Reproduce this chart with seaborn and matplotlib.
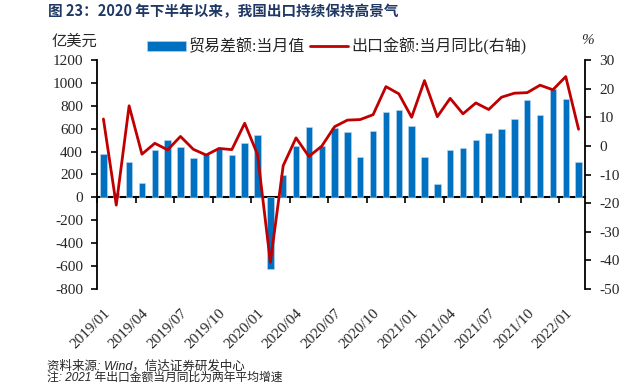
import numpy as np
import pandas as pd
import matplotlib
matplotlib.use("Agg")
import matplotlib.pyplot as plt
import seaborn as sns

# months 2019/01 - 2022/02
months = [f"{y}/{m:02d}" for y in (2019, 2020, 2021) for m in range(1, 13)] + ["2022/01", "2022/02"]

# 贸易差额:当月值 (亿美元)
balance = [381, 41, 311, 128, 413, 498, 440, 346, 375, 422, 369, 471,
           544, -625, 195, 448, 617, 448, 605, 573, 352, 576, 744, 762,
           620, 352, 114, 410, 431, 503, 561, 594, 681, 849, 719, 951,
           858, 306]

# 出口金额:当月同比 (%)
export_yoy = [9.4, -20.7, 14.0, -2.9, 0.9, -1.4, 3.3, -1.2, -3.2, -0.9, -1.3, 7.9,
              -3.0, -40.7, -6.9, 2.8, -3.7, -0.1, 6.7, 9.0, 9.2, 10.9, 20.7, 18.2,
              10.0, 22.8, 10.2, 16.6, 11.2, 15.0, 12.7, 17.0, 18.4, 18.6, 21.2, 19.6,
              24.2, 5.8]

left_ticks = list(range(-800, 1201, 200))
right_ticks = list(range(-50, 31, 10))

title = "图 23：2020 年下半年以来，我国出口持续保持高景气"
source = "资料来源: Wind，信达证券研发中心"
note = "注: 2021 年出口金额当月同比为两年平均增速"

df = pd.DataFrame({"month": months, "balance": balance, "yoy": export_yoy})
df["pos"] = np.arange(len(df))

sns.set_theme(style="white")
plt.rcParams["font.family"] = ["Liberation Serif", "Noto Sans CJK SC", "DejaVu Sans"]
plt.rcParams["axes.unicode_minus"] = False

bar_color = "#0070C0"
line_color = "#C00000"

fig = plt.figure(figsize=(6.35, 3.86), dpi=100)
ax = fig.add_axes([97 / 635, 1 - 289 / 386, 488 / 635, 229 / 386])

sns.barplot(data=df, x="month", y="balance", color=bar_color, width=0.5,
            saturation=1, edgecolor="#BDD7EE", linewidth=0.4, ax=ax,
            label="贸易差额:当月值")
if ax.get_legend() is not None:
    ax.get_legend().remove()
ax.set_xlim(-0.5, len(months) - 0.5)
ax.set_ylim(-800, 1200)
ax.set_yticks(left_ticks)
ax.set_yticklabels([str(t) for t in left_ticks])

ax2 = ax.twinx()
sns.lineplot(data=df, x="pos", y="yoy", color=line_color, linewidth=2.0, ax=ax2,
             label="出口金额:当月同比(右轴)", legend=False)
ax2.set_ylim(-50, 30)
ax2.set_yticks(right_ticks)
ax2.set_yticklabels([str(t) for t in right_ticks])
ax2.set_xlim(-0.5, len(months) - 0.5)

for a in (ax, ax2):
    a.set_xlabel("")
    a.set_ylabel("")
    a.grid(False)
    a.spines["top"].set_visible(False)
    a.spines["bottom"].set_visible(False)
    a.spines["left"].set_linewidth(1.3)
    a.spines["right"].set_linewidth(1.3)
    a.spines["left"].set_color("black")
    a.spines["right"].set_color("black")
ax.spines["right"].set_visible(False)
ax2.spines["left"].set_visible(False)

ax.tick_params(axis="y", direction="out", length=4, width=1.2, color="black",
               labelsize=11, pad=6, left=True)
ax2.tick_params(axis="y", direction="out", length=4, width=1.2, color="black",
                labelsize=11, pad=6, right=True)

# x labels every 3 months, below the plot
lab_pos = list(range(0, len(months), 3))
ax.set_xticks(lab_pos)
ax.set_xticklabels([months[i] for i in lab_pos], rotation=45, ha="right",
                   va="top", rotation_mode="anchor", fontsize=11)
ax.tick_params(axis="x", length=0, pad=13, bottom=True)
ax2.tick_params(axis="x", length=0, labelbottom=False)

# category axis at y=0 with ticks between categories
zero_frac = (0 - (-800)) / (1200 - (-800))
sec = ax.secondary_xaxis(zero_frac)
sec.set_xticks([i - 0.5 for i in range(0, len(months), 3)])
sec.tick_params(axis="x", direction="out", length=4, width=1.2, color="black",
                labelbottom=False)
sec.spines["bottom"].set_linewidth(1.5)
sec.spines["bottom"].set_color("black")

# legend
h1, l1 = ax.get_legend_handles_labels()
h2, l2 = ax2.get_legend_handles_labels()
fig.legend(h1 + h2, l1 + l2, loc="center", bbox_to_anchor=(337 / 635, 1 - 47 / 386),
           ncol=2, frameon=False, fontsize=11.5, handlelength=2.4, handleheight=0.6,
           handletextpad=0.2, columnspacing=0.3, borderaxespad=0)

# text
fig.text(48 / 635, 1 - 11 / 386, title, fontsize=10.5, fontweight="bold",
         color="#1F3864", va="center", ha="left",
         family=["Noto Sans CJK SC", "DejaVu Sans"])
fig.text(74 / 635, 1 - 42 / 386, "亿美元", fontsize=11, ha="center", va="center")
fig.text(588 / 635, 1 - 41 / 386, "%", fontsize=11, ha="center", va="center",
         style="italic")
fig.text(47 / 635, 1 - 366 / 386, source, fontsize=9, ha="left", va="center",
         style="italic", family=["Liberation Sans", "Noto Sans CJK SC"])
fig.text(47 / 635, 1 - 378 / 386, note, fontsize=8.5, ha="left", va="center",
         style="italic", family=["Liberation Sans", "Noto Sans CJK SC"])

fig.savefig("out.png", dpi=100)
